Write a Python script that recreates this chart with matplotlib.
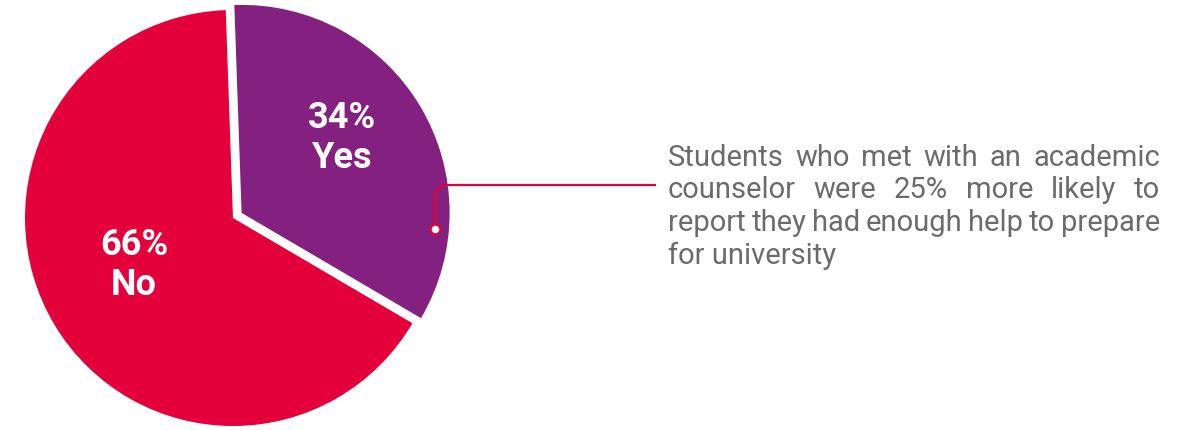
import matplotlib
matplotlib.use("Agg")
import matplotlib.pyplot as plt
from matplotlib.path import Path
from matplotlib.patches import PathPatch

# Survey answer shares
answers = ["Yes", "No"]
shares = [34, 66]
slice_colors = ["#84207F", "#E4003B"]

note_lines = [
    "Students who met with an academic",
    "counselor were 25% more likely to",
    "report they had enough help to prepare",
    "for university",
]

W, H = 1192, 430
fig = plt.figure(figsize=(W / 100, H / 100), dpi=100)
ax = fig.add_axes([0, 0, 1, 1])

cx, cy, r = 233, H - 218, 208
wedges, _ = ax.pie(
    shares,
    colors=slice_colors,
    startangle=92,
    counterclock=False,
    explode=[10, 0],
    center=(cx, cy),
    radius=r,
    frame=True,
    wedgeprops=dict(linewidth=0),
)
ax.set_xlim(0, W)
ax.set_ylim(0, H)
ax.set_aspect("equal")
ax.axis("off")

label_font = dict(family=["Roboto", "DejaVu Sans"], weight="bold",
                  color="white", fontsize=26, ha="center", va="center",
                  linespacing=1.15)
label_pos = {"Yes": (342, H - 138), "No": (134, H - 265)}
for name, val in zip(answers, shares):
    x, y = label_pos[name]
    ax.text(x, y, f"{val}%\n{name}", **label_font)

# Callout connector from the Yes slice to the note
red = slice_colors[1]
verts = [(435, H - 226), (435, H - 198), (435, H - 185), (448, H - 185), (656, H - 185)]
codes = [Path.MOVETO, Path.LINETO, Path.CURVE3, Path.CURVE3, Path.LINETO]
ax.add_patch(PathPatch(Path(verts, codes), facecolor="none", edgecolor=red,
                       linewidth=1.6, capstyle="butt", zorder=3))
ax.plot([435], [H - 229], marker="o", markersize=7, markerfacecolor="white",
        markeredgecolor=red, markeredgewidth=1.6, zorder=4)

# Justified note text: every line but the last spans from left to right edge
note_style = dict(family=["Roboto", "DejaVu Sans"], fontsize=21,
                  color="#6b6b6b", ha="left", va="center")
left, right = 668, 1160
renderer = fig.canvas.get_renderer()
for i, line in enumerate(note_lines):
    y = H - 158 - i * 32.5
    if i == len(note_lines) - 1:
        ax.text(left, y, line, **note_style)
        continue
    words = line.split()
    texts = [ax.text(0, y, w, **note_style) for w in words]
    widths = [t.get_window_extent(renderer).width for t in texts]
    gap = (right - left - sum(widths)) / (len(words) - 1)
    x = left
    for t, w in zip(texts, widths):
        t.set_x(x)
        x += w + gap

fig.savefig("out.png", dpi=100)
